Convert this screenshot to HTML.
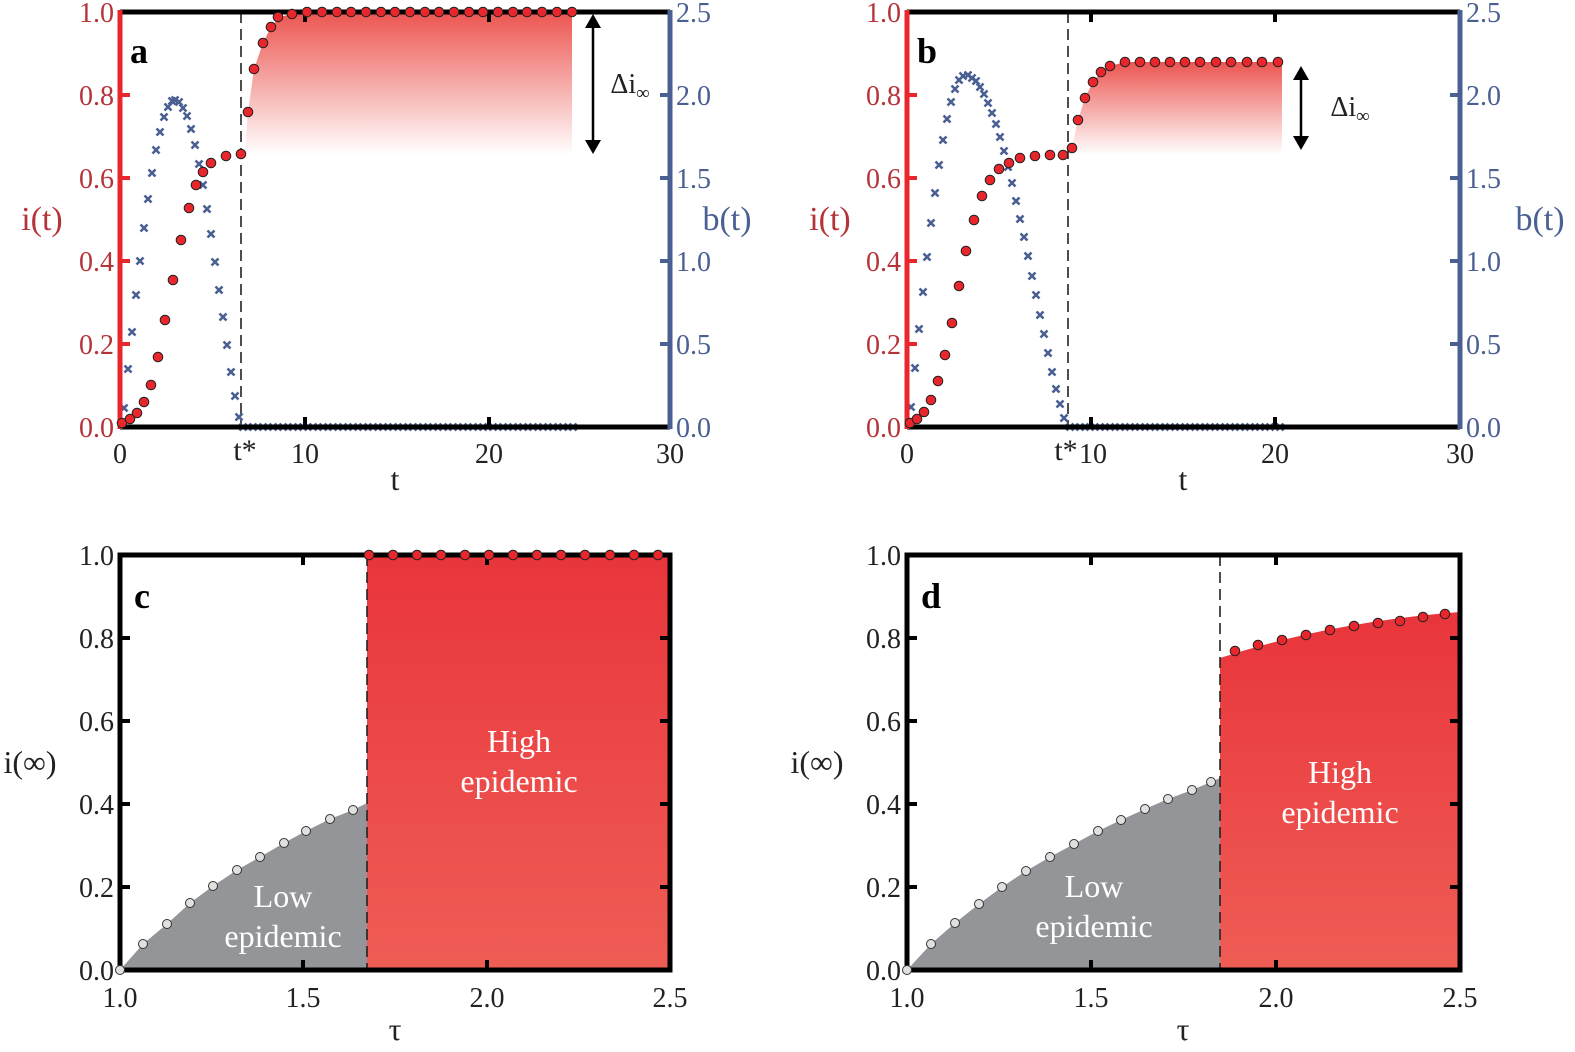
<!DOCTYPE html>
<html><head><meta charset="utf-8"><style>
html,body{margin:0;padding:0;background:#fff;}
svg text{font-family:"Liberation Serif",serif;}
</style></head><body>
<svg width="1575" height="1047" xmlns="http://www.w3.org/2000/svg">
<defs>
<linearGradient id="ga" x1="0" y1="0" x2="0" y2="1"><stop offset="0" stop-color="#ec5550"/><stop offset="1" stop-color="#ec5550" stop-opacity="0"/></linearGradient>
<linearGradient id="gr" x1="0" y1="0" x2="0" y2="1"><stop offset="0" stop-color="#e9353b"/><stop offset="1" stop-color="#ef5d55"/></linearGradient>
<marker id="rd" markerUnits="userSpaceOnUse" markerWidth="14" markerHeight="14" refX="7" refY="7" viewBox="0 0 14 14"><circle cx="7" cy="7" r="4.8" fill="#e8262c" stroke="#222" stroke-width="1"/></marker>
<marker id="gd" markerUnits="userSpaceOnUse" markerWidth="14" markerHeight="14" refX="7" refY="7" viewBox="0 0 14 14"><circle cx="7" cy="7" r="4.5" fill="#e0e0e0" stroke="#333" stroke-width="1"/></marker>
<marker id="bx" markerUnits="userSpaceOnUse" markerWidth="12" markerHeight="12" refX="6" refY="6" viewBox="0 0 12 12"><path d="M2.5 2.5L9.5 9.5M2.5 9.5L9.5 2.5" stroke="#4a5f92" stroke-width="2.6"/></marker>
</defs>

<!-- ================= PANEL A ================= -->
<path d="M245 155 L245 150 L248 112 L254 69 L263 43 L271 27 L280 17 L295 13 L572 12 L572 155 Z" fill="url(#ga)"/>
<line x1="241" y1="12" x2="241" y2="427" stroke="#222" stroke-width="1.6" stroke-dasharray="11,6"/>
<polyline fill="none" stroke="none" style="marker-start:url(#bx);marker-mid:url(#bx);marker-end:url(#bx)" points="124,408 128,369 132,332 136,295 140,261 144,228 148,199 152,173 156,150 160,132 164,117 168,107 172,101 175,100 179,102 183,108 187,116 191,129 195,145 199,164 203,185 207,209 211,234 215,262 219,290 223,317 227,345 231,372 235,396 239,417 243,427 253,427 263,427 273,427 283,427 293,427 303,427 313,427 323,427 333,427 343,427 353,427 363,427 373,427 383,427 393,427 403,427 413,427 423,427 433,427 443,427 453,427 463,427 473,427 483,427 493,427 503,427 513,427 523,427 533,427 543,427 553,427 563,427 573,427"/>
<line x1="120" y1="12" x2="670" y2="12" stroke="#000" stroke-width="5"/>
<line x1="120" y1="427" x2="670" y2="427" stroke="#000" stroke-width="5"/>
<line x1="120" y1="10" x2="120" y2="429" stroke="#e8262c" stroke-width="5"/>
<line x1="670" y1="10" x2="670" y2="429" stroke="#4a5f92" stroke-width="5"/>
<g stroke="#e8262c" stroke-width="4"><line x1="120" y1="344" x2="130" y2="344"/><line x1="120" y1="261" x2="130" y2="261"/><line x1="120" y1="178" x2="130" y2="178"/><line x1="120" y1="95" x2="130" y2="95"/></g>
<g stroke="#4a5f92" stroke-width="4"><line x1="660" y1="344" x2="670" y2="344"/><line x1="660" y1="261" x2="670" y2="261"/><line x1="660" y1="178" x2="670" y2="178"/><line x1="660" y1="95" x2="670" y2="95"/></g>
<g stroke="#000" stroke-width="4"><line x1="305" y1="12" x2="305" y2="22"/><line x1="489" y1="12" x2="489" y2="22"/><line x1="305" y1="427" x2="305" y2="417"/><line x1="489" y1="427" x2="489" y2="417"/></g>
<polyline fill="none" stroke="none" style="marker-start:url(#rd);marker-mid:url(#rd);marker-end:url(#rd)" points="122,423 130,419 137,413 144,402 151,385 158,357 165,320 173,280 181,240 189,208 196,185 203,172 211,163 226,156 241,154 248,112 254,69 263,43 271,27 278,17 292,14 307,12 322,12 337,12 351,12 366,12 381,12 395,12 410,12 425,12 439,12 454,12 469,12 483,12 498,12 513,12 527,12 542,12 557,12 572,12"/>
<g font-size="28" fill="#b5343a" text-anchor="end"><text x="114" y="437">0.0</text><text x="114" y="354">0.2</text><text x="114" y="271">0.4</text><text x="114" y="188">0.6</text><text x="114" y="105">0.8</text><text x="114" y="22">1.0</text></g>
<g font-size="28" fill="#4a5f92" text-anchor="start"><text x="676" y="437">0.0</text><text x="676" y="354">0.5</text><text x="676" y="271">1.0</text><text x="676" y="188">1.5</text><text x="676" y="105">2.0</text><text x="676" y="22">2.5</text></g>
<g font-size="28" fill="#222" text-anchor="middle"><text x="120" y="463">0</text><text x="305" y="463">10</text><text x="489" y="463">20</text><text x="670" y="463">30</text><text x="245" y="460" font-size="30">t*</text><text x="395" y="490" font-size="32">t</text></g>
<text x="130" y="63" font-size="36" font-weight="bold">a</text>
<text x="42" y="230" font-size="34" fill="#b5343a" text-anchor="middle">i(t)</text>
<text x="727" y="230" font-size="34" fill="#4a5f92" text-anchor="middle">b(t)</text>
<line x1="593" y1="26" x2="593" y2="142" stroke="#000" stroke-width="2.5"/>
<path d="M585 28L593 14L601 28Z M585 140L593 154L601 140Z" fill="#000"/>
<text x="630" y="93" font-size="28" fill="#222" text-anchor="middle">Δi<tspan font-size="19" dy="6">∞</tspan></text>

<!-- ================= PANEL B ================= -->
<path d="M1072 155 L1072 148 L1078 120 L1085 98 L1093 82 L1101 72 L1110 66 L1125 62 L1282 62 L1282 155 Z" fill="url(#ga)"/>
<line x1="1068" y1="12" x2="1068" y2="427" stroke="#222" stroke-width="1.6" stroke-dasharray="11,6"/>
<polyline fill="none" stroke="none" style="marker-start:url(#bx);marker-mid:url(#bx);marker-end:url(#bx)" points="911,407 915,368 919,329 923,292 927,257 931,223 935,193 939,165 943,140 947,119 951,102 955,89 959,80 963,76 968,75 972,78 976,81 980,87 984,94 988,103 992,113 996,124 1000,137 1004,151 1008,167 1012,183 1016,201 1020,219 1024,237 1028,256 1032,276 1036,295 1040,315 1044,334 1048,353 1052,372 1056,389 1060,404 1064,418 1070,427 1080,427 1090,427 1100,427 1110,427 1120,427 1130,427 1140,427 1150,427 1160,427 1170,427 1180,427 1190,427 1200,427 1210,427 1220,427 1230,427 1240,427 1250,427 1260,427 1270,427 1280,427"/>
<line x1="907" y1="12" x2="1460" y2="12" stroke="#000" stroke-width="5"/>
<line x1="907" y1="427" x2="1460" y2="427" stroke="#000" stroke-width="5"/>
<line x1="907" y1="10" x2="907" y2="429" stroke="#e8262c" stroke-width="5"/>
<line x1="1460" y1="10" x2="1460" y2="429" stroke="#4a5f92" stroke-width="5"/>
<g stroke="#e8262c" stroke-width="4"><line x1="907" y1="344" x2="917" y2="344"/><line x1="907" y1="261" x2="917" y2="261"/><line x1="907" y1="178" x2="917" y2="178"/><line x1="907" y1="95" x2="917" y2="95"/></g>
<g stroke="#4a5f92" stroke-width="4"><line x1="1450" y1="344" x2="1460" y2="344"/><line x1="1450" y1="261" x2="1460" y2="261"/><line x1="1450" y1="178" x2="1460" y2="178"/><line x1="1450" y1="95" x2="1460" y2="95"/></g>
<g stroke="#000" stroke-width="4"><line x1="1091" y1="12" x2="1091" y2="22"/><line x1="1275" y1="12" x2="1275" y2="22"/><line x1="1091" y1="427" x2="1091" y2="417"/><line x1="1275" y1="427" x2="1275" y2="417"/></g>
<polyline fill="none" stroke="none" style="marker-start:url(#rd);marker-mid:url(#rd);marker-end:url(#rd)" points="910,423 917,419 924,412 931,400 938,381 945,355 952,323 959,286 966,251 974,220 982,196 990,180 999,169 1009,163 1020,158 1035,156 1050,155 1063,155 1072,148 1078,120 1085,98 1093,82 1101,72 1110,66 1125,62 1140,62 1155,62 1170,62 1185,62 1200,62 1216,62 1231,62 1247,62 1262,62 1278,62"/>
<g font-size="28" fill="#b5343a" text-anchor="end"><text x="901" y="437">0.0</text><text x="901" y="354">0.2</text><text x="901" y="271">0.4</text><text x="901" y="188">0.6</text><text x="901" y="105">0.8</text><text x="901" y="22">1.0</text></g>
<g font-size="28" fill="#4a5f92" text-anchor="start"><text x="1466" y="437">0.0</text><text x="1466" y="354">0.5</text><text x="1466" y="271">1.0</text><text x="1466" y="188">1.5</text><text x="1466" y="105">2.0</text><text x="1466" y="22">2.5</text></g>
<g font-size="28" fill="#222" text-anchor="middle"><text x="907" y="463">0</text><text x="1093" y="463">10</text><text x="1275" y="463">20</text><text x="1460" y="463">30</text><text x="1066" y="460" font-size="30">t*</text><text x="1183" y="490" font-size="32">t</text></g>
<text x="917" y="63" font-size="36" font-weight="bold">b</text>
<text x="830" y="230" font-size="34" fill="#b5343a" text-anchor="middle">i(t)</text>
<text x="1540" y="230" font-size="34" fill="#4a5f92" text-anchor="middle">b(t)</text>
<line x1="1301" y1="78" x2="1301" y2="138" stroke="#000" stroke-width="2.5"/>
<path d="M1293 80L1301 66L1309 80Z M1293 136L1301 150L1309 136Z" fill="#000"/>
<text x="1350" y="116" font-size="28" fill="#222" text-anchor="middle">Δi<tspan font-size="19" dy="6">∞</tspan></text>

<!-- ================= PANEL C ================= -->
<polygon points="120,970 143,944 167,924 190,903 213,886 237,870 260,857 284,843 306,831 330,819 353,810 367,803 367,970" fill="#939598"/>
<rect x="367" y="555" width="303" height="415" fill="url(#gr)"/>
<line x1="367" y1="555" x2="367" y2="970" stroke="#222" stroke-width="1.6" stroke-dasharray="11,6"/>
<rect x="120" y="555" width="550" height="415" fill="none" stroke="#000" stroke-width="5"/>
<g stroke="#000" stroke-width="4">
<line x1="120" y1="887" x2="130" y2="887"/><line x1="120" y1="804" x2="130" y2="804"/><line x1="120" y1="721" x2="130" y2="721"/><line x1="120" y1="638" x2="130" y2="638"/>
<line x1="660" y1="887" x2="670" y2="887"/><line x1="660" y1="804" x2="670" y2="804"/><line x1="660" y1="721" x2="670" y2="721"/><line x1="660" y1="638" x2="670" y2="638"/>
<line x1="303" y1="555" x2="303" y2="565"/><line x1="487" y1="555" x2="487" y2="565"/><line x1="303" y1="970" x2="303" y2="960"/><line x1="487" y1="970" x2="487" y2="960"/></g>
<polyline fill="none" stroke="none" style="marker-start:url(#gd);marker-mid:url(#gd);marker-end:url(#gd)" points="120,970 143,944 167,924 190,903 213,886 237,870 260,857 284,843 306,831 330,819 353,810"/>
<polyline fill="none" stroke="none" style="marker-start:url(#rd);marker-mid:url(#rd);marker-end:url(#rd)" points="369,555 393,555 417,555 441,555 465,555 489,555 513,555 537,555 561,555 585,555 610,555 634,555 658,555"/>
<g font-size="28" fill="#222" text-anchor="end"><text x="114" y="980">0.0</text><text x="114" y="897">0.2</text><text x="114" y="814">0.4</text><text x="114" y="731">0.6</text><text x="114" y="648">0.8</text><text x="114" y="565">1.0</text></g>
<g font-size="28" fill="#222" text-anchor="middle"><text x="120" y="1007">1.0</text><text x="303" y="1007">1.5</text><text x="487" y="1007">2.0</text><text x="670" y="1007">2.5</text><text x="395" y="1040" font-size="32">τ</text></g>
<text x="134" y="608" font-size="36" font-weight="bold">c</text>
<text x="30" y="773" font-size="32" fill="#222" text-anchor="middle">i(∞)</text>
<g font-size="32" fill="#fff" text-anchor="middle"><text x="283" y="907">Low</text><text x="283" y="947">epidemic</text><text x="519" y="752">High</text><text x="519" y="792">epidemic</text></g>

<!-- ================= PANEL D ================= -->
<polygon points="907,970 931,944 955,923 979,904 1002,887 1026,871 1050,857 1074,844 1098,831 1121,820 1145,809 1168,799 1192,790 1211,782 1220,778 1220,970" fill="#939598"/>
<path d="M1220 658 Q1330 622 1460 612 L1460 970 L1220 970 Z" fill="url(#gr)"/>
<line x1="1220" y1="555" x2="1220" y2="970" stroke="#222" stroke-width="1.6" stroke-dasharray="11,6"/>
<rect x="907" y="555" width="553" height="415" fill="none" stroke="#000" stroke-width="5"/>
<g stroke="#000" stroke-width="4">
<line x1="907" y1="887" x2="917" y2="887"/><line x1="907" y1="804" x2="917" y2="804"/><line x1="907" y1="721" x2="917" y2="721"/><line x1="907" y1="638" x2="917" y2="638"/>
<line x1="1450" y1="887" x2="1460" y2="887"/><line x1="1450" y1="804" x2="1460" y2="804"/><line x1="1450" y1="721" x2="1460" y2="721"/><line x1="1450" y1="638" x2="1460" y2="638"/>
<line x1="1091" y1="555" x2="1091" y2="565"/><line x1="1276" y1="555" x2="1276" y2="565"/><line x1="1091" y1="970" x2="1091" y2="960"/><line x1="1276" y1="970" x2="1276" y2="960"/></g>
<polyline fill="none" stroke="none" style="marker-start:url(#gd);marker-mid:url(#gd);marker-end:url(#gd)" points="907,970 931,944 955,923 979,904 1002,887 1026,871 1050,857 1074,844 1098,831 1121,820 1145,809 1168,799 1192,790 1211,782"/>
<polyline fill="none" stroke="none" style="marker-start:url(#rd);marker-mid:url(#rd);marker-end:url(#rd)" points="1235,651 1258,645 1282,640 1306,635 1330,630 1354,626 1378,623 1400,621 1423,617 1445,614"/>
<g font-size="28" fill="#222" text-anchor="end"><text x="901" y="980">0.0</text><text x="901" y="897">0.2</text><text x="901" y="814">0.4</text><text x="901" y="731">0.6</text><text x="901" y="648">0.8</text><text x="901" y="565">1.0</text></g>
<g font-size="28" fill="#222" text-anchor="middle"><text x="907" y="1007">1.0</text><text x="1091" y="1007">1.5</text><text x="1276" y="1007">2.0</text><text x="1460" y="1007">2.5</text><text x="1183" y="1040" font-size="32">τ</text></g>
<text x="921" y="608" font-size="36" font-weight="bold">d</text>
<text x="817" y="773" font-size="32" fill="#222" text-anchor="middle">i(∞)</text>
<g font-size="32" fill="#fff" text-anchor="middle"><text x="1094" y="897">Low</text><text x="1094" y="937">epidemic</text><text x="1340" y="783">High</text><text x="1340" y="823">epidemic</text></g>
</svg>
</body></html>
